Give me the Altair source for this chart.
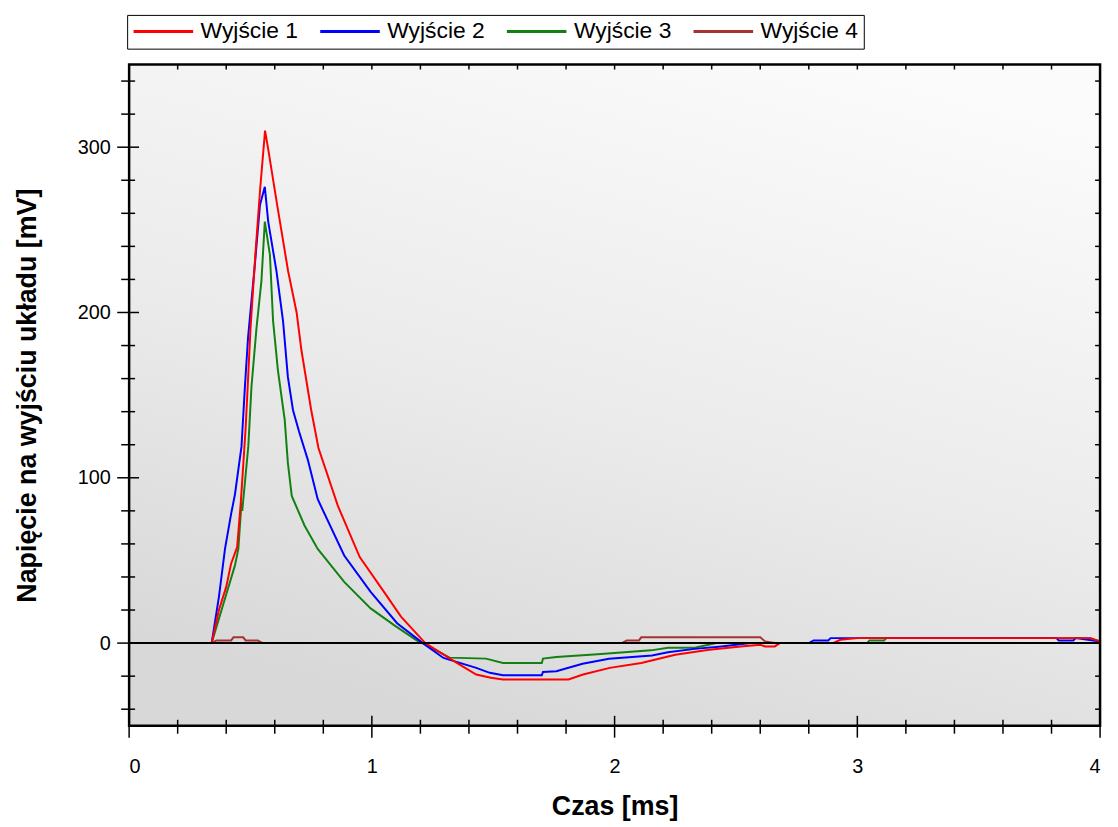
import altair as alt
import pandas as pd

# ---- data ----
series_names = ["Wyjście 1", "Wyjście 2", "Wyjście 3", "Wyjście 4"]
series_colors = ["#ff0000", "#0000ff", "#138013", "#a83232"]

t1 = [0, 0.34, 0.37, 0.40, 0.42, 0.445, 0.46, 0.48, 0.50, 0.52, 0.54, 0.56, 0.575, 0.61, 0.655, 0.69, 0.71, 0.75, 0.78, 0.86, 0.95, 1.05, 1.12, 1.22, 1.35, 1.43, 1.49, 1.54, 1.81, 1.87, 1.98, 2.11, 2.25, 2.39, 2.52, 2.60, 2.62, 2.66, 2.68, 2.90, 2.93, 3.0, 3.96, 4.0]
v1 = [0, 0, 20, 34, 48, 58, 85, 130, 190, 235, 275, 310, 297, 265, 225, 200, 177, 141, 118, 83, 52, 31, 16, 0, -12, -19, -21, -22, -22, -19, -15, -12, -7, -4, -2, -1, -2, -2, 0, 0, 2, 3, 3, 1]

t2 = [0, 0.34, 0.37, 0.395, 0.42, 0.436, 0.463, 0.477, 0.49, 0.518, 0.539, 0.559, 0.573, 0.607, 0.634, 0.654, 0.675, 0.70, 0.736, 0.777, 0.886, 0.995, 1.104, 1.21, 1.295, 1.43, 1.486, 1.54, 1.70, 1.705, 1.76, 1.868, 1.977, 2.154, 2.22, 2.33, 2.44, 2.50, 2.56, 2.80, 2.82, 2.88, 2.89, 3.82, 3.83, 3.89, 3.90, 4.0]
v2 = [0, 0, 28, 57, 78, 90, 119, 155, 185, 229, 265, 276, 255, 225, 195, 161, 141, 128, 111, 87, 53, 31, 12, 0, -9, -15, -18, -19.5, -19.5, -17.5, -17, -12.5, -9.5, -7.5, -5.5, -3.5, -2, -1, 0, 0, 1.6, 1.6, 3, 3, 1.6, 1.6, 3, 1]

t3 = [0, 0.34, 0.395, 0.436, 0.45, 0.463, 0.466, 0.491, 0.504, 0.525, 0.545, 0.559, 0.58, 0.593, 0.613, 0.641, 0.654, 0.67, 0.723, 0.777, 0.886, 0.995, 1.09, 1.186, 1.21, 1.32, 1.47, 1.54, 1.70, 1.705, 1.76, 1.93, 2.15, 2.22, 2.33, 2.42, 3.04, 3.05, 3.11, 3.12, 3.96, 4.0]
v3 = [0, 0, 27, 47, 57, 85, 80, 119, 155, 191, 219, 255, 235, 195, 165, 135, 109, 89, 71, 57, 37, 21, 11, 1.5, 0, -8.8, -9.4, -12, -12, -9.4, -8.4, -6.8, -4.4, -2.8, -2.8, 0, 0, 1.6, 1.6, 3, 3, 1]

t4 = [0, 0.34, 0.36, 0.42, 0.43, 0.47, 0.48, 0.53, 0.55, 2.03, 2.05, 2.10, 2.11, 2.60, 2.62, 2.66, 4.0]
v4 = [0, 0, 1.6, 1.6, 3.5, 3.5, 1.6, 1.6, 0, 0, 1.6, 1.6, 3.5, 3.5, 1, 0, 0]

x_ticks = [round(i * 0.2, 1) for i in range(21)]
x_major = [0, 1, 2, 3, 4]
y_ticks = [v for v in range(-40, 341, 20)]
y_major = [0, 100, 200, 300]

W, H = 978, 666
FONT = "Liberation Sans"

rows = []
for name, ts, vs in zip(series_names, [t1, t2, t3, t4], [v1, v2, v3, v4]):
    for t, v in zip(ts, vs):
        rows.append({"t": t, "v": v, "s": name})
df = pd.DataFrame(rows)

xs = alt.Scale(domain=[0, 4], nice=False, zero=False)
ys = alt.Scale(domain=[-50, 350], nice=False, zero=False)
cs = alt.Scale(domain=series_names, range=series_colors)

x_axis = alt.Axis(values=x_major, ticks=False, domain=False, grid=False,
                  labelFont=FONT, labelFontSize=20, labelColor="black", labelPadding=31,
                  title="Czas [ms]", titleFont=FONT, titleFontSize=27, titleFontWeight="bold",
                  titleColor="black", titlePadding=17, format="d")
y_axis = alt.Axis(values=y_major, ticks=False, domain=False, grid=False,
                  labelFont=FONT, labelFontSize=20, labelColor="black", labelPadding=19,
                  title="Napięcie na wyjściu układu [mV]", titleFont=FONT, titleFontSize=27,
                  titleFontWeight="bold", titleColor="black", titlePadding=36)

X = lambda f: alt.X(f, scale=xs, axis=x_axis)
Y = lambda f: alt.Y(f, scale=ys, axis=y_axis)

bg = alt.Chart(alt.Data(values=[{}])).mark_rect(
    color=alt.LinearGradient(
        gradient="linear",
        stops=[alt.GradientStop(offset=0, color="#fbfbfb"),
               alt.GradientStop(offset=0.55, color="#ebebeb"),
               alt.GradientStop(offset=1, color="#d8d8d8")],
        x1=0.75, y1=0, x2=0.35, y2=1,
    )
).encode(x=alt.value(0), x2=alt.value(W), y=alt.value(0), y2=alt.value(H))

layers = [bg]
for name in reversed(series_names):
    layers.append(
        alt.Chart(df).transform_filter(alt.datum.s == name).mark_line(strokeWidth=2, clip=True).encode(
            x=X("t:Q"), y=Y("v:Q"),
            color=alt.Color("s:N", scale=cs, legend=alt.Legend(title=None)),
        )
    )

zero = alt.Chart(alt.Data(values=[{"v": 0}])).mark_rule(color="black", strokeWidth=2).encode(
    y=Y("v:Q")
)
layers.append(zero)

xt = pd.DataFrame({"t": x_ticks})
xt["major"] = [abs(t - round(t)) < 1e-6 for t in x_ticks]
yt = pd.DataFrame({"v": y_ticks})
yt["major"] = [v % 100 == 0 for v in y_ticks]

def xrule(data, y0, y1):
    return alt.Chart(data).mark_rule(color="black", strokeWidth=1.5).encode(
        x=X("t:Q"), y=alt.value(y0), y2=alt.value(y1))

def yrule(data, x0, x1):
    return alt.Chart(data).mark_rule(color="black", strokeWidth=1.5).encode(
        y=Y("v:Q"), x=alt.value(x0), x2=alt.value(x1))

xmaj = xt[xt.major]
xmin = xt[~xt.major]
ymaj = yt[yt.major]
ymin = yt[~yt.major]
layers += [
    xrule(xmaj, H - 10, H + 12), xrule(xmin, H - 6, H + 8),
    xrule(xt, 0, 5),
    yrule(ymaj, -12, 10), yrule(ymin, -8, 6),
    yrule(yt, W - 5, W),
]

frame = alt.Chart(alt.Data(values=[{}])).mark_rect(
    fillOpacity=0, stroke="black", strokeWidth=2.5
).encode(x=alt.value(0), x2=alt.value(W), y=alt.value(0), y2=alt.value(H))
layers.append(frame)

chart = alt.layer(*layers).properties(
    width=W, height=H,
    autosize=alt.AutoSizeParams(type="none"),
    padding={"left": 122, "top": 54, "right": 10, "bottom": 93},
).configure_view(stroke=None).configure_legend(
    orient="none", legendX=-2, legendY=-50, direction="horizontal",
    symbolType="M-1,0H5", symbolSize=400, symbolStrokeWidth=3,
    labelFont=FONT, labelFontSize=23, labelColor="black", labelOffset=46,
    columnPadding=15, padding=5, strokeColor="black", fillColor="white",
)

chart.save("out.html", embed_options={"renderer": "svg", "actions": False})
